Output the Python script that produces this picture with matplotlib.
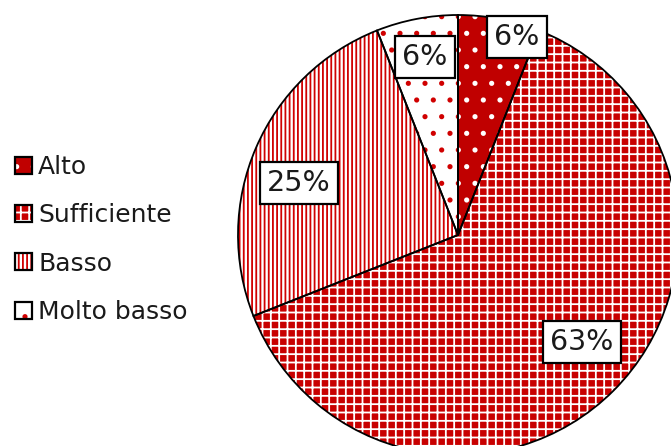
import matplotlib

matplotlib.use("Agg")

import matplotlib.pyplot as plt  # noqa: E402
from matplotlib.legend_handler import HandlerTuple  # noqa: E402
from matplotlib.patches import Patch  # noqa: E402

# share of respondents per level
categories = ["Alto", "Sufficiente", "Basso", "Molto basso"]
percentages = [6, 63, 25, 6]

# fill style per slice: face colour, hatch, hatch colour
face_colors = ["#c00000", "#c80000", "white", "white"]
hatches = [".", "++", "||||", "."]
hatch_colors = ["white", "white", "#d00000", "#d00000"]

# label box centres (pixel units of the canvas, origin bottom-left)
label_positions = [(517, 409), (582, 104), (299, 263), (425, 389)]

W, H = 671, 446
CENTER = (458, 211)
RADIUS = 220

plt.rcParams["hatch.linewidth"] = 1.3

fig = plt.figure(figsize=(W / 100, H / 100), dpi=100)
ax = fig.add_axes([0, 0, 1, 1])

# hatched fills first (no outline, so the hatch keeps its own colour)
fills, _ = ax.pie(
    percentages,
    center=CENTER,
    radius=RADIUS,
    startangle=90,
    counterclock=False,
    frame=True,
    wedgeprops=dict(linewidth=0),
)
for wedge, fc, hatch, hc in zip(fills, face_colors, hatches, hatch_colors):
    wedge.set_facecolor(fc)
    wedge.set_edgecolor(hc)
    wedge.set_hatch(hatch)

# black outlines on top
ax.pie(
    percentages,
    center=CENTER,
    radius=RADIUS,
    startangle=90,
    counterclock=False,
    frame=True,
    wedgeprops=dict(fill=False, edgecolor="black", linewidth=1.3),
)
ax.set_xlim(0, W)
ax.set_ylim(0, H)
ax.set_aspect("equal")
ax.axis("off")

for pct, (x, y) in zip(percentages, label_positions):
    ax.text(
        x, y, f"{pct}%",
        ha="center", va="center", fontsize=20.5, color="#1a1a1a",
        bbox=dict(boxstyle="square,pad=0.24", facecolor="white", edgecolor="black", linewidth=1.6),
    )

handles = []
for fc, hatch, hc in zip(face_colors, hatches, hatch_colors):
    handles.append((
        Patch(facecolor=fc, edgecolor=hc, hatch=hatch, linewidth=0),
        Patch(fill=False, edgecolor="black", linewidth=1.6),
    ))

ax.legend(
    handles, categories,
    handler_map={tuple: HandlerTuple(ndivide=1, pad=0)},
    loc="center left",
    bbox_to_anchor=(0.0075, 0.463),
    borderaxespad=0,
    frameon=False,
    fontsize=18,
    handlelength=0.68,
    handleheight=0.68,
    handletextpad=0.24,
    labelspacing=0.97,
    labelcolor="#1a1a1a",
)

fig.savefig("out.png", dpi=100)
